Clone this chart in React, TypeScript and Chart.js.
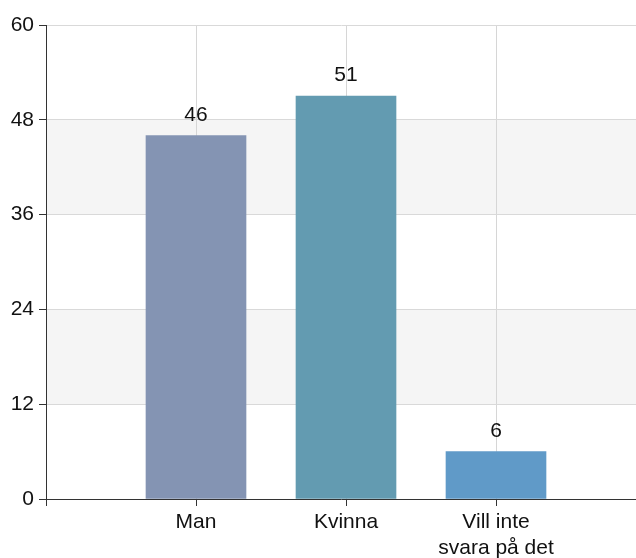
import React, { useEffect, useRef } from "react";
import { Chart, registerables } from "chart.js";

Chart.register(...registerables);

const categories: (string | string[])[] = ["Man", "Kvinna", ["Vill inte", "svara på det"]];
const values: number[] = [46, 51, 6];
const barColors: string[] = ["#8494B3", "#639BB1", "#609AC8"];
const yTicks: number[] = [0, 12, 24, 36, 48, 60];
const shadedBands: [number, number][] = [[12, 24], [36, 48]];

const FONT = "'Liberation Sans', Arial, sans-serif";

export default function App() {
  const ref = useRef<HTMLCanvasElement | null>(null);

  useEffect(() => {
    if (!ref.current) return;
    const labels = ["", ...categories];

    const bandPlugin = {
      id: "bands",
      beforeDraw(chart: any) {
        const { ctx, chartArea, scales } = chart;
        ctx.save();
        ctx.fillStyle = "#f5f5f5";
        shadedBands.forEach(([a, b]) => {
          const y1 = scales.y.getPixelForValue(b);
          const y2 = scales.y.getPixelForValue(a);
          ctx.fillRect(chartArea.left, y1, chartArea.right - chartArea.left, y2 - y1);
        });
        ctx.restore();
      },
    };

    const valuePlugin = {
      id: "values",
      afterDatasetsDraw(chart: any) {
        const { ctx } = chart;
        const meta = chart.getDatasetMeta(0);
        ctx.save();
        ctx.font = `21px ${FONT}`;
        ctx.fillStyle = "#111";
        ctx.textAlign = "center";
        ctx.textBaseline = "alphabetic";
        meta.data.forEach((bar: any, i: number) => {
          ctx.fillText(String(values[i]), bar.x, bar.y - 15);
        });
        ctx.restore();
      },
    };

    const chart = new Chart(ref.current, {
      type: "bar",
      data: {
        datasets: [
          {
            data: values.map((v, i) => ({ x: i + 1, y: v })),
            backgroundColor: barColors,
            borderWidth: 0,
            barThickness: 100,
          },
        ],
      },
      options: {
        animation: false,
        responsive: false,
        maintainAspectRatio: false,
        layout: { padding: { top: 25, right: 0, left: 0, bottom: 0 } },
        plugins: { legend: { display: false }, tooltip: { enabled: false } },
        scales: {
          x: {
            type: "linear",
            offset: false,
            min: 0,
            max: 590 / 150,
            afterBuildTicks(scale: any) {
              scale.ticks = [0, 1, 2, 3].map((v) => ({ value: v }));
            },
            afterFit(scale: any) {
              scale.height = 59;
              scale.paddingLeft = 0;
              scale.paddingRight = 0;
            },
            ticks: {
              autoSkip: false,
              maxRotation: 0,
              padding: 4,
              color: "#111",
              font: { family: FONT, size: 21 },
              callback: (_v: any, i: number) => labels[i],
            },
            grid: { offset: false, color: "#d6d6d6", tickColor: "#333", tickLength: 7, lineWidth: 1 },
            border: { color: "#333", width: 1 },
          },
          y: {
            min: 0,
            max: 60,
            afterBuildTicks(scale: any) {
              scale.ticks = yTicks.map((v) => ({ value: v }));
            },
            afterFit(scale: any) {
              scale.width = 46;
            },
            ticks: {
              padding: 5,
              color: "#111",
              font: { family: FONT, size: 21 },
            },
            grid: { color: "#d9d9d9", tickColor: "#333", tickLength: 7, lineWidth: 1 },
            border: { color: "#333", width: 1 },
          },
        },
      },
      plugins: [bandPlugin, valuePlugin],
    });
    return () => chart.destroy();
  }, []);

  return (
    <div style={{ position: "absolute", left: 0, top: 0, width: 636, height: 558 }}>
      <canvas ref={ref} width={636} height={558} style={{ display: "block" }} />
    </div>
  );
}
